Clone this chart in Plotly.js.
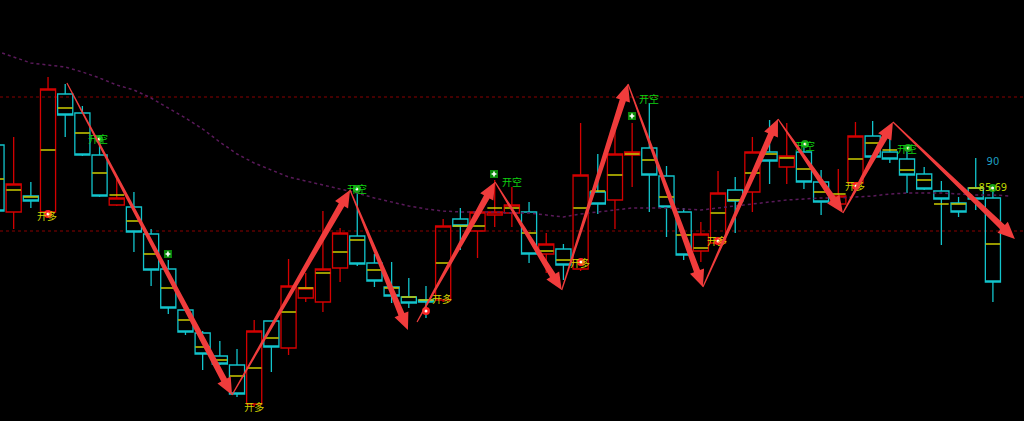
<!DOCTYPE html>
<html>
<head>
<meta charset="utf-8">
<script src="https://cdn.plot.ly/plotly-3.0.1.min.js"></script>
<style>html,body{margin:0;padding:0;background:#000;}#chart{width:1024px;height:421px;}</style>
</head>
<body>
<div id="chart"></div>
<script>
// ---- candle data (price units) ----
const idx = Array.from({length: 59}, (_, i) => i);
const openV  = [355,288,304,288,406,387,345,295,293,266,231,190,167,144,135,96,179,152,202,198,232,264,237,213,203,200,200,281,269,285,287,288,246,251,231,308,300,345,352,324,288,249,257,310,308,348,333,348,318,296,317,364,348,341,326,309,297,312,302];
const highV  = [357,363,318,423,416,394,361,323,308,271,240,190,169,159,151,180,179,241,227,289,272,310,246,238,222,214,281,292,290,320,313,298,267,256,377,346,377,377,397,334,292,278,329,323,363,380,377,358,330,331,378,379,368,353,333,319,303,342,315];
const lowV   = [287,271,292,284,363,344,303,294,248,214,186,165,130,135,103,93,128,145,198,188,218,234,213,197,192,182,198,250,242,273,273,237,227,220,229,286,271,313,288,263,240,238,255,267,288,316,316,311,285,294,315,340,337,307,310,255,283,290,198];
const closeV = [289,316,299,411,385,345,304,302,268,230,192,168,146,136,106,169,153,214,212,231,267,236,219,204,197,198,274,274,288,288,295,246,256,235,325,296,346,348,325,293,245,266,307,299,348,339,344,318,298,304,364,343,341,325,311,301,288,301,218];
const midV   = [321,310,303,350,392,367,327,305,279,246,212,180,153,140,124,132,162,188,212,227,248,260,230,212,203,200,237,274,274,292,292,267,249,240,292,309,325,346,340,303,265,252,287,300,327,346,342,331,308,306,341,357,350,330,320,296,296,312,256];

// ---- moving average (dotted purple) ----
const maIdx = Array.from({length: 60}, (_, i) => i);
const maV = [449,443,437,435,433,428,422,415,410,402,392,382,371,358,346,337,330,323,319,315,311,307,302,298,294,291,289,288,288,288,287,287,285,283,286,288,290,292,292,292,291,290,292,294,296,298,300,301,302,302,303,304,306,307,307,307,306,305,305,304];

// ---- horizontal dashed levels ----
const levels = [403, 269];

// ---- zigzag arrows (from -> to) ----
const arrFromI = [4.1, 13.71, 20.58, 24.48, 29.02, 32.9, 36.76, 41.12, 45.49, 49.27, 52.18];
const arrFromV = [417, 105, 310, 178, 318, 210, 416, 213, 381, 287, 378];
const arrToI   = [13.71, 20.58, 23.95, 29.02, 32.9, 36.76, 41.12, 45.49, 49.27, 52.18, 59.28];
const arrToV   = [105, 310, 170, 318, 210, 416, 213, 381, 287, 378, 261];

// ---- signal labels ----
const longTxtI = [2.94, 15.0, 25.93, 33.96, 41.94, 49.97];
const longTxtV = [283, 92, 200, 236, 258, 313];
const longMkI  = [3.0, 25.0, 34.02, 42.0, 50.03];
const longMkV  = [286, 189, 238, 259, 314];
const shortTxtI = [5.91, 20.98, 30.01, 37.98, 47.06, 53.0];
const shortTxtV = [360, 310, 317, 400, 353, 350];
const shortDotI = [5.97, 20.98, 47.06, 53.06, 57.98];
const shortDotV = [361, 311, 356, 352, 312];
const shortSqI  = [9.98, 28.96, 36.99];
const shortSqV  = [246, 326, 384];
const infoTxt = ['90', '85.69'];
const infoI = [58.0, 58.0];
const infoV = [338, 312];

const X0 = 0.204, X1 = 59.81, Y0 = 79, Y1 = 500, W = 1024, H = 421;
const toPx = (i, v) => [(i - X0) / (X1 - X0) * W, (Y1 - v) / (Y1 - Y0) * H];
const toData = (px, py) => [X0 + px / W * (X1 - X0), Y1 - py / H * (Y1 - Y0)];

function arrowPath(si, sv, ei, ev) {
  const [sx, sy] = toPx(si, sv), [ex, ey] = toPx(ei, ev);
  const dx = ex - sx, dy = ey - sy, L = Math.hypot(dx, dy);
  const ux = dx / L, uy = dy / L, nx = -uy, ny = ux;
  const hl = 17, hw = 7.5, sw1 = 3.2, sw0 = 0.6;
  const bx = ex - ux * hl, by = ey - uy * hl;
  const pts = [
    [sx + nx * sw0, sy + ny * sw0],
    [bx + nx * sw1, by + ny * sw1],
    [bx + nx * hw, by + ny * hw],
    [ex, ey],
    [bx - nx * hw, by - ny * hw],
    [bx - nx * sw1, by - ny * sw1],
    [sx - nx * sw0, sy - ny * sw0]
  ].map(p => toData(p[0], p[1]));
  return 'M' + pts.map(p => p[0].toFixed(4) + ',' + p[1].toFixed(3)).join('L') + 'Z';
}

const shapes = levels.map(l => ({
  type: 'line', xref: 'paper', x0: 0, x1: 1, yref: 'y', y0: l, y1: l,
  line: {color: '#8a0000', width: 1, dash: '3px,3px'}, layer: 'below'
}));
for (let k = 0; k < arrFromI.length; k++) {
  shapes.push({type: 'path', xref: 'x', yref: 'y', path: arrowPath(arrFromI[k], arrFromV[k], arrToI[k], arrToV[k]),
    fillcolor: '#f03c3c', line: {width: 0}, layer: 'above'});
}

const cjk = '"Noto Sans CJK SC", "Noto Sans", sans-serif';
const traces = [
  {type: 'scatter', mode: 'lines', x: maIdx, y: maV, line: {color: '#5a1a5a', width: 1.5, dash: 'dot'}, hoverinfo: 'skip'},
  {type: 'candlestick', x: idx, open: openV, high: highV, low: lowV, close: closeV,
   increasing: {line: {color: '#d40000', width: 1.3}, fillcolor: 'rgba(0,0,0,0)'},
   decreasing: {line: {color: '#12c4cc', width: 1.3}, fillcolor: 'rgba(0,0,0,0)'},
   whiskerwidth: 0, hoverinfo: 'skip'},
  {type: 'scatter', mode: 'markers', x: idx, y: midV,
   marker: {symbol: 'line-ew', size: 10.5, line: {color: '#cccc00', width: 1.5}}, hoverinfo: 'skip'},
  {type: 'scatter', mode: 'markers', x: longMkI, y: longMkV, marker: {symbol: 'circle', size: 8, color: '#ff2020'}, hoverinfo: 'skip'},
  {type: 'scatter', mode: 'markers', x: longMkI, y: longMkV, marker: {symbol: 'circle', size: 3, color: '#ffffff'}, hoverinfo: 'skip'},
  {type: 'scatter', mode: 'markers', x: shortDotI, y: shortDotV, marker: {symbol: 'circle', size: 8, color: '#18a018'}, hoverinfo: 'skip'},
  {type: 'scatter', mode: 'markers', x: shortDotI, y: shortDotV, marker: {symbol: 'circle', size: 3, color: '#ffffff'}, hoverinfo: 'skip'},
  {type: 'scatter', mode: 'markers', x: shortSqI, y: shortSqV, marker: {symbol: 'square', size: 8, color: '#0a8a0a'}, hoverinfo: 'skip'},
  {type: 'scatter', mode: 'markers', x: shortSqI, y: shortSqV, marker: {symbol: 'cross', size: 4, color: '#ffffff'}, hoverinfo: 'skip'},
  {type: 'scatter', mode: 'text', x: longTxtI, y: longTxtV, text: longTxtI.map(() => '开多'),
   textfont: {family: cjk, size: 10, color: '#d2d200'}, hoverinfo: 'skip'},
  {type: 'scatter', mode: 'text', x: shortTxtI, y: shortTxtV, text: shortTxtI.map(() => '开空'),
   textfont: {family: cjk, size: 10, color: '#10d010'}, hoverinfo: 'skip'},
  {type: 'scatter', mode: 'text', x: infoI, y: infoV, text: infoTxt,
   textfont: {family: 'DejaVu Sans, sans-serif', size: 10, color: ['#1e9ec0', '#b8d000']}, hoverinfo: 'skip'}
];

const layout = {
  width: W, height: H, margin: {l: 0, r: 0, t: 0, b: 0, pad: 0},
  paper_bgcolor: '#000000', plot_bgcolor: '#000000',
  showlegend: false, boxgap: 0.12, boxgroupgap: 0,
  xaxis: {range: [X0, X1], visible: false, showgrid: false, zeroline: false, rangeslider: {visible: false}, fixedrange: true},
  yaxis: {range: [Y0, Y1], visible: false, showgrid: false, zeroline: false, fixedrange: true},
  shapes: shapes
};

Plotly.newPlot('chart', traces, layout, {staticPlot: true, displayModeBar: false});
</script>
</body>
</html>
